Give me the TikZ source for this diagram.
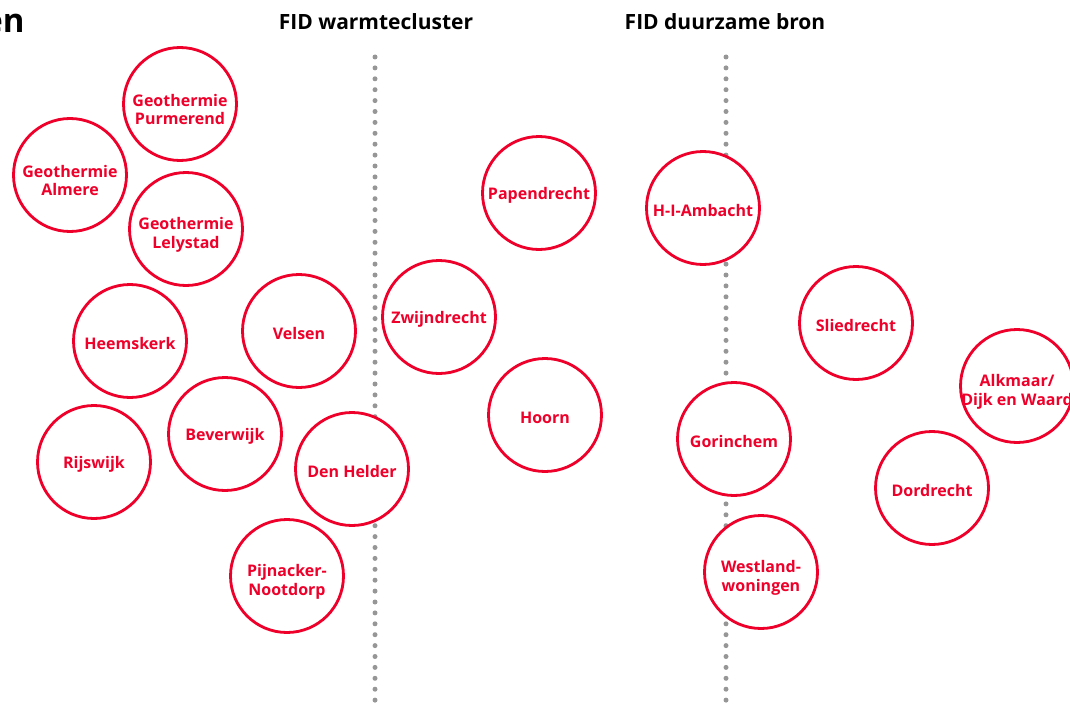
\documentclass[tikz,border=0pt]{standalone}
\usepackage{fontspec}
\setmainfont{Open Sans}
\usetikzlibrary{positioning}
\definecolor{fidred}{RGB}{238,0,42}
\definecolor{dotgray}{RGB}{150,150,150}

\begin{document}
\begin{tikzpicture}[
      x=1pt, y=-1pt,
      project/.style={
          circle,
          draw=fidred,
          line width=2.8pt,
          fill=white,
          minimum size=113pt,
          inner sep=0pt,
          text height=17.5pt,
          align=center,
          text=fidred,
          font=\bfseries\fontsize{16}{18.5}\selectfont
        },
      twoline/.style={text height=42pt},
      header/.style={
          font=\bfseries\fontsize{21}{25}\selectfont,
          anchor=base
        },
      divider/.style={
          dotgray,
          line width=5pt,
          line cap=round,
          dash pattern=on 0pt off 10.9pt
        }
    ]
    \useasboundingbox (0,0) rectangle (1070,706);

    % Headers
    \node[font=\bfseries\fontsize{33}{36}\selectfont, anchor=base east] (title) at (28,33) {en};
    \node[header] (warm) at (376,30) {FID warmtecluster};
    \node[header] (bron) at (725,30) {FID duurzame bron};

    % Dotted dividers
    \coordinate (warmtop) at (375,57);
    \coordinate (warmbot) at (375,712);
    \coordinate (brontop) at (726,57);
    \coordinate (bronbot) at (726,712);
    \draw[divider] (warmtop) -- (warmbot);
    \draw[divider] (brontop) -- (bronbot);

    % Left column
    \node[project, twoline] at (180,104) (purmerend) {Geothermie\\Purmerend};
    \node[project, twoline] at (70,175)  (almere)    {Geothermie\\Almere};
    \node[project, twoline] at (186,229) (lelystad)  {Geothermie\\Lelystad};
    \node[project] at (130,341) (heemskerk) {Heemskerk};
    \node[project] at (299,331) (velsen)    {Velsen};
    \node[project] at (94,462)  (rijswijk)  {Rijswijk};
    \node[project] at (225,434) (beverwijk) {Beverwijk};
    \node[project] at (352,469) (denhelder) {Den Helder};
    \node[project, twoline] at (287,576) (pijnacker) {Pijnacker-\\Nootdorp};

    % FID warmtecluster
    \node[project] at (439,317) (zwijndrecht) {Zwijndrecht};
    \node[project] at (539,193) (papendrecht) {Papendrecht};
    \node[project] at (545,415) (hoorn)       {Hoorn};

    % FID duurzame bron
    \node[project] at (703,208)  (ambacht)    {H-I-Ambacht};
    \node[project] at (734,439)  (gorinchem)  {Gorinchem};
    \node[project, twoline] at (761,572)  (westland)   {Westland-\\woningen};
    \node[project] at (856,323)  (sliedrecht) {Sliedrecht};
    \node[project, twoline, inner sep=-5pt] at (1017,386) (alkmaar) {Alkmaar/\\Dijk en Waard};
    \node[project] at (932,488)  (dordrecht)  {Dordrecht};
  \end{tikzpicture}
\end{document}
